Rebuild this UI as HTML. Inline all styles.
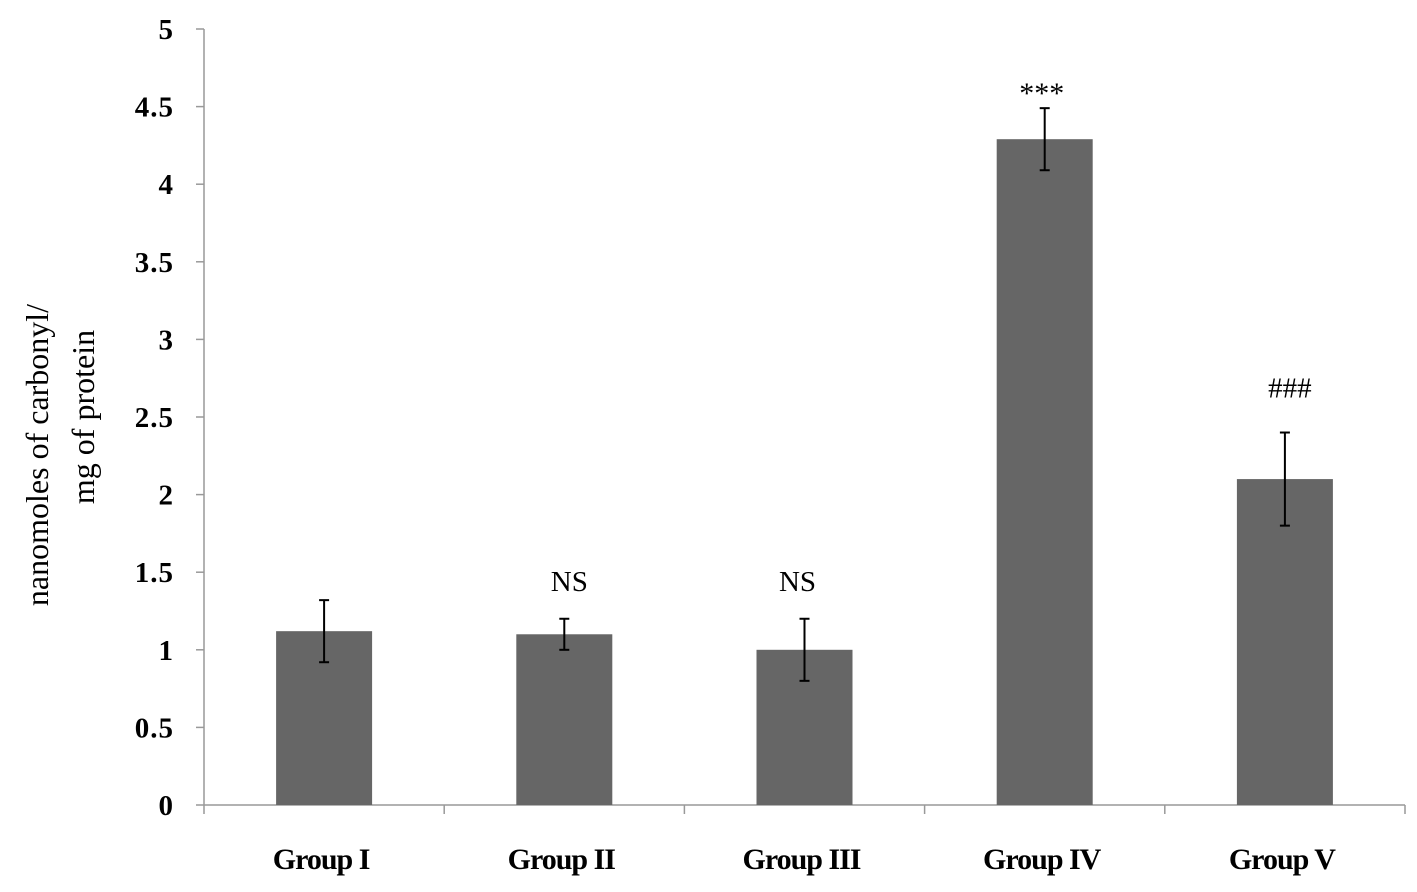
<!DOCTYPE html>
<html><head><meta charset="utf-8"><style>
body{margin:0;background:#fff;}
svg{display:block;font-family:"Liberation Serif",serif;}
</style></head><body>
<svg id="chart" width="1417" height="892">
<g id="axes"></g><g id="bars"></g>
<text transform="translate(48,455) rotate(-90)" text-anchor="middle" font-size="32">nanomoles of carbonyl/</text>
<text transform="translate(94,417) rotate(-90)" text-anchor="middle" font-size="32">mg of protein</text>
</svg>
<script>
const categories=["Group I","Group II","Group III","Group IV","Group V"];
const values=[1.12,1.1,1.0,4.29,2.1];
const errors=[0.2,0.1,0.2,0.2,0.3];
const annotations=["","NS","NS","***","###"];
const yTicks=[0,0.5,1,1.5,2,2.5,3,3.5,4,4.5,5];
const tickLabels=["0","0.5","1","1.5","2","2.5","3","3.5","4","4.5","5"];
const NS="http://www.w3.org/2000/svg";
const x0=204,x1=1405,y0=805,yTop=29;
const y=v=>y0-(v/5)*(y0-yTop);
const band=(x1-x0)/categories.length;
const cx=i=>x0+band*(i+0.5);
function mk(t,a,p){const e=document.createElementNS(NS,t);for(const k in a)e.setAttribute(k,a[k]);p.appendChild(e);return e;}
const axes=document.getElementById('axes'),bars=document.getElementById('bars');
let l=mk('line',{x1:x0,y1:yTop,x2:x0,y2:y0,stroke:'#999','stroke-width':1.5},axes);


l=mk('line',{x1:x0,y1:y0,x2:x1,y2:y0,stroke:'#999','stroke-width':1.5},axes);


yTicks.forEach((v,i)=>{
 const t=mk('line',{x1:x0-8,y1:y(v),x2:x0,y2:y(v),stroke:'#999','stroke-width':1.5},axes);
 
 
 const tx=mk('text',{x:174,y:y(v)+10,'text-anchor':'end','font-size':29,'font-weight':'bold','letter-spacing':'1'},axes);
 tx.textContent=tickLabels[i];
 
 
});
for(let i=0;i<=categories.length;i++){
 const xx=x0+band*i;
 const t=mk('line',{x1:xx,y1:y0,x2:xx,y2:y0+9,stroke:'#999','stroke-width':1.5},axes);
 
 
}
const bw=96;
categories.forEach((c,i)=>{
 const r=mk('rect',{x:cx(i)-bw/2,y:y(values[i]),width:bw,height:y0-y(values[i]),fill:'#666'},bars);
 
 
 const hi=y(values[i]+errors[i]),lo=y(values[i]-errors[i]);
 const g=mk('g',{stroke:'#000','stroke-width':2},bars);
 
 
 mk('line',{x1:cx(i),y1:hi,x2:cx(i),y2:lo},g);
 mk('line',{x1:cx(i)-5,y1:hi,x2:cx(i)+5,y2:hi},g);
 mk('line',{x1:cx(i)-5,y1:lo,x2:cx(i)+5,y2:lo},g);
 const lb=mk('text',{x:cx(i)-3,y:869,'text-anchor':'middle','font-size':30,'font-weight':'bold','letter-spacing':'-1'},bars);
 lb.textContent=c;
 
 
 if(annotations[i]){
  const an=mk('text',{x:cx(i)+(i==1?5:(i==2?-7:(i==4?5:-3))),y:hi-(annotations[i]=="***"?5:(i==4?35:28)),'text-anchor':'middle','font-size':annotations[i]=="***"?30:29},bars);
  an.textContent=annotations[i];
  
  
 }
});
</script>
</body></html>
